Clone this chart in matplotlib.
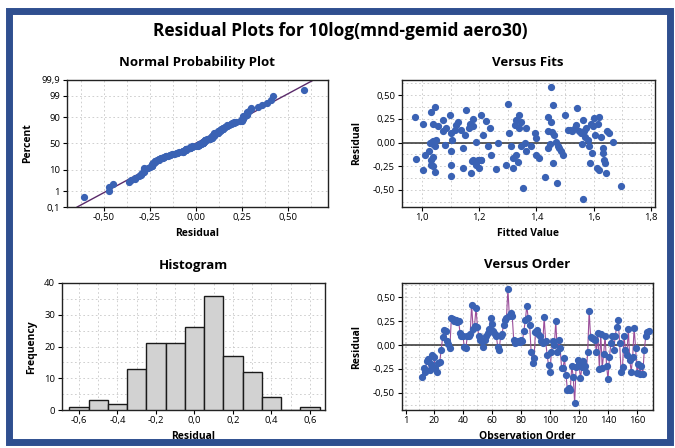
import matplotlib
matplotlib.use("Agg")
import matplotlib.pyplot as plt
import numpy as np
from statistics import NormalDist
from matplotlib.patches import Rectangle
from matplotlib.ticker import MultipleLocator

# ---------------- data ----------------
residuals = [
    -0.33, -0.24, -0.28, -0.17, -0.15, -0.26, -0.20, -0.10, -0.13, -0.24,
    -0.28, -0.19, -0.18, -0.05, 0.08, 0.16, 0.15, 0.04, 0.01, -0.03,
    0.28, 0.27, 0.25, 0.26, 0.24, 0.25, 0.13, 0.10, 0.09, -0.02,
    -0.03, 0.09, 0.10, 0.12, 0.42, 0.17, 0.20, 0.39, 0.19, 0.09,
    0.05, 0.04, -0.02, 0.05, 0.10, 0.13, 0.17, 0.28, 0.22, 0.15,
    0.12, 0.10, -0.02, -0.05, 0.10, 0.12, 0.21, 0.26, 0.28, 0.59,
    0.30, 0.34, 0.30, 0.05, 0.02, 0.03, 0.04, 0.03, 0.05, 0.04,
    0.15, 0.26, 0.41, 0.28, 0.21, -0.07, -0.19, -0.14, 0.14, 0.16,
    0.12, 0.09, 0.04, 0.02, 0.29, 0.04, -0.10, -0.21, -0.28, -0.07,
    0.04, 0.00, 0.25, -0.07, 0.05, -0.03, -0.24, -0.24, -0.14, -0.31,
    -0.47, -0.45, -0.47, -0.22, -0.33, -0.61, -0.23, -0.16, -0.20, -0.35,
    -0.23, -0.17, -0.22, -0.28, -0.07, 0.36, 0.08, 0.07, 0.06, 0.05,
    -0.07, 0.13, -0.25, 0.12, -0.24, -0.09, 0.10, -0.22, -0.36, -0.12,
    0.02, 0.09, -0.05, 0.10, 0.19, 0.26, 0.02, -0.28, -0.23, 0.10,
    -0.05, -0.10, 0.17, -0.16, -0.28, -0.12, 0.18, -0.03, -0.29, -0.20,
    -0.30, -0.22, -0.30, -0.05, 0.09, 0.14, 0.15,
]
first_order = 12

fits_x = [
    0.974, 0.98, 1.003, 1.003, 1.01, 1.023, 1.03, 1.03, 1.04, 1.045,
    1.035, 1.04, 1.045, 1.03, 1.04, 1.04, 1.045, 1.056, 1.05, 1.073,
    1.073, 1.085, 1.08, 1.097, 1.10, 1.105, 1.10, 1.10, 1.10, 1.115,
    1.12, 1.125, 1.135, 1.143, 1.143, 1.15, 1.155, 1.163, 1.167, 1.17,
    1.175, 1.178, 1.18, 1.18, 1.19, 1.19, 1.196, 1.20, 1.205, 1.207,
    1.213, 1.225, 1.23, 1.237, 1.243, 1.26, 1.266, 1.30, 1.295, 1.303,
    1.31, 1.32, 1.318, 1.324, 1.33, 1.338, 1.34, 1.347, 1.347, 1.336,
    1.33, 1.353, 1.36, 1.365, 1.365, 1.38, 1.394, 1.397, 1.40, 1.41,
    1.43, 1.44, 1.44, 1.44, 1.446, 1.45, 1.452, 1.455, 1.458, 1.458,
    1.46, 1.47, 1.473, 1.476, 1.48, 1.487, 1.493, 1.50, 1.516, 1.525,
    1.534, 1.54, 1.543, 1.55, 1.557, 1.56, 1.562, 1.565, 1.57, 1.575,
    1.58, 1.583, 1.586, 1.595, 1.598, 1.60, 1.606, 1.563, 1.62, 1.613,
    1.62, 1.627, 1.633, 1.636, 1.64, 1.645, 1.648, 1.653, 1.668, 1.697,
    1.615, 1.633, 1.59, 1.51, 1.207, 1.04, 1.033, 1.028,
]
fits_y = [
    0.27, -0.17, 0.20, -0.29, -0.13, -0.09, -0.18, 0.32, 0.20, 0.38,
    0.01, -0.02, -0.04, -0.24, -0.15, -0.25, -0.31, 0.17, 0.03, 0.24,
    0.12, 0.15, -0.03, 0.29, 0.10, 0.03, -0.09, -0.24, -0.35, 0.13,
    0.19, 0.22, 0.13, -0.06, -0.27, 0.08, 0.34, 0.15, 0.20, -0.32,
    -0.19, 0.25, 0.17, -0.18, 0.01, -0.24, -0.18, -0.27, -0.18, 0.29,
    0.08, 0.23, -0.04, 0.15, -0.13, -0.28, -0.01, 0.41, -0.24, 0.10,
    -0.04, -0.27, -0.16, 0.19, 0.24, 0.29, 0.15, 0.22, -0.04, -0.20,
    -0.13, -0.48, -0.01, 0.15, -0.09, -0.04, 0.10, 0.05, -0.13, -0.16,
    -0.36, 0.27, 0.12, -0.06, -0.02, 0.59, 0.22, 0.11, 0.40, -0.22,
    0.08, 0.01, -0.43, -0.04, -0.06, -0.09, -0.13, 0.29, 0.13, 0.12,
    0.15, 0.19, 0.36, 0.12, 0.10, -0.02, 0.24, 0.12, 0.06, 0.15,
    0.03, -0.04, -0.22, -0.11, 0.17, 0.26, 0.08, -0.60, 0.27, -0.27,
    -0.29, 0.06, -0.11, -0.18, -0.22, -0.32, 0.12, 0.10, 0.01, -0.46,
    0.20, -0.06, 0.20, 0.13, -0.18, 0.02, -0.01, 0.00,
]

hist_centers = [-0.6, -0.5, -0.4, -0.3, -0.2, -0.1, 0.0, 0.1, 0.2, 0.3, 0.4, 0.5, 0.6]
hist_counts = [1, 3, 2, 13, 21, 21, 26, 36, 17, 12, 4, 0, 1]

pct_ticks = [0.1, 1, 10, 50, 90, 99, 99.9]
pct_labels = ["0,1", "1", "10", "50", "90", "99", "99,9"]
npp_xticks = [-0.50, -0.25, 0.00, 0.25, 0.50]
npp_xlabels = ["-0,50", "-0,25", "0,00", "0,25", "0,50"]
res_ticks = [-0.50, -0.25, 0.00, 0.25, 0.50]
res_labels = ["-0,50", "-0,25", "0,00", "0,25", "0,50"]
fit_ticks = [1.0, 1.2, 1.4, 1.6, 1.8]
fit_labels = ["1,0", "1,2", "1,4", "1,6", "1,8"]
hist_xticks = [-0.6, -0.4, -0.2, 0.0, 0.2, 0.4, 0.6]
hist_xlabels = ["-0,6", "-0,4", "-0,2", "0,0", "0,2", "0,4", "0,6"]
hist_yticks = [0, 10, 20, 30, 40]
order_ticks = [1, 20, 40, 60, 80, 100, 120, 140, 160]

# ---------------- styling ----------------
W, H = 675, 448
BLUE = "#3a62b4"
FONT = ["Open Sans", "DejaVu Sans"]
plt.rcParams["font.family"] = FONT
plt.rcParams["axes.linewidth"] = 1.0
plt.rcParams["xtick.labelsize"] = 6.8
plt.rcParams["ytick.labelsize"] = 6.8
plt.rcParams["xtick.major.size"] = 3
plt.rcParams["ytick.major.size"] = 3
plt.rcParams["xtick.major.pad"] = 1.5
plt.rcParams["ytick.major.pad"] = 2

fig = plt.figure(figsize=(W / 100, H / 100), dpi=100)
fig.patch.set_facecolor("white")


def ax_at(l, t, r, b):
    return fig.add_axes([l / W, 1 - b / H, (r - l) / W, (b - t) / H])


def grid(ax):
    ax.grid(True, which="both", color="#c8c8c8", linestyle=(0, (2, 3)), linewidth=0.6)
    ax.set_axisbelow(True)


def ftext(x, y, s, size, rot=0, weight="bold"):
    fig.text(x / W, 1 - y / H, s, ha="center", va="center", fontsize=size,
             fontweight=weight, rotation=rot)


# outer frame
fig.add_artist(Rectangle((9 / W, 6 / H), 661 / W, 431 / H, transform=fig.transFigure,
                         fill=False, edgecolor="#2f4f8f", linewidth=5))

ftext(340, 31, "Residual Plots for 10log(mnd-gemid aero30)", 12.5)

# ---------- Normal probability plot ----------
nd = NormalDist()
ax1 = ax_at(67, 80, 328, 207)
res = np.array(residuals)
srt = np.sort(res)
n = len(srt)
pp = (np.arange(1, n + 1) - 0.3) / (n + 0.4)
zq = np.array([nd.inv_cdf(p) for p in pp])
mu, sd = res.mean(), res.std(ddof=1)
zlim = nd.inv_cdf(0.999)
zl = np.array([-zlim, zlim])
grid(ax1)
ax1.plot(mu + sd * zl, zl, color="#5a2a6a", lw=1.0, zorder=2)
ax1.plot(srt, zq, "o", color=BLUE, ms=4.2, mec=BLUE, zorder=3)
ax1.set_yticks([nd.inv_cdf(p / 100) for p in pct_ticks])
ax1.set_yticklabels(pct_labels)
ax1.set_ylim(-zlim, zlim)
ax1.set_xticks(npp_xticks)
ax1.set_xticklabels(npp_xlabels)
ax1.set_xlim(-0.70, 0.72)
ax1.xaxis.set_minor_locator(MultipleLocator(0.125))
ftext(197, 62, "Normal Probability Plot", 9.5)
ftext(197, 233, "Residual", 7.5)
ftext(28, 143, "Percent", 7.5, rot=90)

# ---------- Versus fits ----------
ax2 = ax_at(402, 80, 655, 207)
grid(ax2)
ax2.axhline(0, color="#303030", lw=1.1, zorder=2)
ax2.plot(fits_x, fits_y, "o", color=BLUE, ms=4.2, mec=BLUE, zorder=3)
ax2.set_xticks(fit_ticks)
ax2.set_xticklabels(fit_labels)
ax2.set_xlim(0.93, 1.815)
ax2.set_yticks(res_ticks)
ax2.set_yticklabels(res_labels)
ax2.set_ylim(-0.68, 0.66)
ax2.xaxis.set_minor_locator(MultipleLocator(0.1))
ax2.yaxis.set_minor_locator(MultipleLocator(0.125))
ftext(528, 62, "Versus Fits", 9.5)
ftext(528, 233, "Fitted Value", 7.5)
ftext(357, 143, "Residual", 7.5, rot=90)

# ---------- Histogram ----------
ax3 = ax_at(62, 283, 325, 410)
grid(ax3)
ax3.bar(hist_centers, hist_counts, width=0.1, color="#d2d2d2", edgecolor="#1a1a1a",
        linewidth=1.0, zorder=3)
ax3.set_xticks(hist_xticks)
ax3.set_xticklabels(hist_xlabels)
ax3.set_xlim(-0.688, 0.678)
ax3.set_yticks(hist_yticks)
ax3.set_ylim(0, 40)
ax3.xaxis.set_minor_locator(MultipleLocator(0.1))
ax3.yaxis.set_minor_locator(MultipleLocator(5))
ftext(193, 265, "Histogram", 9.5)
ftext(193, 436, "Residual", 7.5)
ftext(32, 347, "Frequency", 7.5, rot=90)

# ---------- Versus order ----------
ax4 = ax_at(402, 283, 653, 410)
grid(ax4)
order = np.arange(first_order, first_order + len(residuals))
ax4.axhline(0, color="#303030", lw=1.1, zorder=2)
ax4.plot(order, residuals, "-", color="#9b4f9b", lw=0.8, zorder=3)
ax4.plot(order, residuals, "o", color=BLUE, ms=4.2, mec=BLUE, zorder=4)
ax4.set_xticks(order_ticks)
ax4.set_xlim(-2, 171)
ax4.set_yticks(res_ticks)
ax4.set_yticklabels(res_labels)
ax4.set_ylim(-0.68, 0.65)
ax4.xaxis.set_minor_locator(MultipleLocator(10))
ax4.yaxis.set_minor_locator(MultipleLocator(0.125))
ftext(527, 265, "Versus Order", 9.5)
ftext(527, 436, "Observation Order", 7.5)
ftext(357, 347, "Residual", 7.5, rot=90)

for ax in (ax1, ax2, ax3, ax4):
    ax.tick_params(which="minor", length=0)
    for sp in ax.spines.values():
        sp.set_color("#222222")

fig.savefig("out.png", dpi=100, facecolor="white")
